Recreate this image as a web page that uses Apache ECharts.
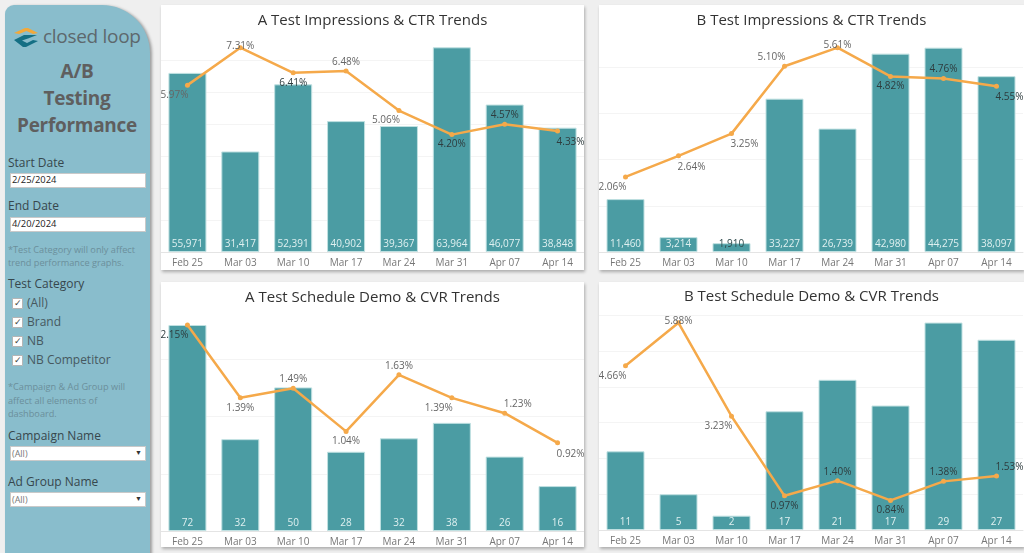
<!DOCTYPE html>
<html>
<head>
<meta charset="utf-8">
<title>A/B Testing Performance</title>
<script src="https://cdn.jsdelivr.net/npm/echarts@6/dist/echarts.min.js"></script>
<style>
  html, body { margin: 0; padding: 0; width: 1024px; height: 553px; overflow: hidden; background: #efefef; font-family: "Open Sans", sans-serif; }
  .panel { position: absolute; background: #fff; box-shadow: 1px 2px 3px rgba(0,0,0,.28); }
  #side { position: absolute; left: 5px; top: 5px; width: 145px; height: 560px; background: #89bdcc; border-radius: 9px 48px 0 0; box-shadow: 2px 1px 3px rgba(0,0,0,.35); }
  .t { position: absolute; white-space: nowrap; line-height: 1; }
  .head { left: 0; width: 154px; text-align: center; font-size: 19px; font-weight: 700; letter-spacing: -.3px; color: #5f5f5f; }
  .lab { left: 8px; font-size: 12px; color: #37474d; }
  .note { left: 8px; font-size: 9.2px; color: #6b8f9b; }
  .opt { left: 27px; font-size: 12px; color: #46585f; }
  .box { position: absolute; left: 10px; width: 134px; background: #fff; border: 1px solid #c9c9c9; box-sizing: content-box; }
  .val { left: 12px; font-size: 9.4px; color: #222; }
  .all { left: 12px; font-size: 9px; color: #777; }
  .check { position: absolute; left: 12px; width: 9px; height: 9px; background: #fff; border: 1px solid #b5b5b5; border-radius: 1px; }
</style>
</head>
<body>
<div id="side"></div>
<svg style="position:absolute;left:13px;top:26px" width="27" height="23" viewBox="0 0 27 23">
  <path d="M1 7 L12 2 L15 2 L25 7 L20 8 L13.5 5 L6 8 Z" fill="#f2a93b"/>
  <path d="M1 14 L11 9 L24 9 L15 12.5 L9 14.5 L14 17 L20 14 L25 15 L13 21 L10 21 Z" fill="#146f84"/>
</svg>
<div class="t" style="left:43px;top:27px;font-size:19px;color:#5d686d;letter-spacing:-.3px">closed loop</div>
<div class="t head" style="top:62px">A/B</div>
<div class="t head" style="top:89px">Testing</div>
<div class="t head" style="top:116px">Performance</div>

<div class="t lab" style="top:157px">Start Date</div>
<div class="box" style="top:173px;height:13px"></div>
<div class="t val" style="top:175px">2/25/2024</div>
<div class="t lab" style="top:200px">End Date</div>
<div class="box" style="top:217px;height:13px"></div>
<div class="t val" style="top:219px">4/20/2024</div>
<div class="t note" style="top:245px">*Test Category will only affect</div>
<div class="t note" style="top:258px">trend performance graphs.</div>

<div class="t lab" style="top:278px">Test Category</div>
<div class="check" style="top:298px"></div><div class="t" style="left:14px;top:298px;font-size:9px;color:#444">✓</div><div class="t opt" style="top:297px">(All)</div>
<div class="check" style="top:317px"></div><div class="t" style="left:14px;top:317px;font-size:9px;color:#444">✓</div><div class="t opt" style="top:316px">Brand</div>
<div class="check" style="top:336px"></div><div class="t" style="left:14px;top:336px;font-size:9px;color:#444">✓</div><div class="t opt" style="top:335px">NB</div>
<div class="check" style="top:355px"></div><div class="t" style="left:14px;top:355px;font-size:9px;color:#444">✓</div><div class="t opt" style="top:354px">NB Competitor</div>
<div class="t note" style="top:382px">*Campaign &amp; Ad Group will</div>
<div class="t note" style="top:396px">affect all elements of</div>
<div class="t note" style="top:409px">dashboard.</div>

<div class="t lab" style="top:430px">Campaign Name</div>
<div class="box" style="top:446px;height:13px"></div>
<div class="t all" style="top:449px">(All)</div>
<div class="t" style="left:135px;top:449px;font-size:7px;color:#333">▼</div>
<div class="t lab" style="top:476px">Ad Group Name</div>
<div class="box" style="top:492px;height:13px"></div>
<div class="t all" style="top:495px">(All)</div>
<div class="t" style="left:135px;top:495px;font-size:7px;color:#333">▼</div>

<div class="panel" id="c1" style="left:161px;top:5px;width:423px;height:265px"></div>
<div class="panel" id="c2" style="left:599px;top:5px;width:425px;height:265px"></div>
<div class="panel" id="c3" style="left:161px;top:282px;width:423px;height:265px"></div>
<div class="panel" id="c4" style="left:599px;top:282px;width:425px;height:265px"></div>

<script>
var weeks = ['Feb 25', 'Mar 03', 'Mar 10', 'Mar 17', 'Mar 24', 'Mar 31', 'Apr 07', 'Apr 14'];

var impressionsA = [55971, 31417, 52391, 40902, 39367, 63964, 46077, 38848];
var ctrA = [5.97, 7.31, 6.41, 6.48, 5.06, 4.20, 4.57, 4.33];
var impressionsB = [11460, 3214, 1910, 33227, 26739, 42980, 44275, 38097];
var ctrB = [2.06, 2.64, 3.25, 5.10, 5.61, 4.82, 4.76, 4.55];
// demo counts are fractional in the bars, the labels show them rounded
var demosA = [72, 32.1, 50.2, 27.7, 32.4, 37.8, 26, 15.7];
var cvrA = [2.15, 1.39, 1.49, 1.04, 1.63, 1.39, 1.23, 0.92];
var demosB = [11, 5, 2, 16.6, 21, 17.4, 29, 26.6];
var cvrB = [4.66, 5.88, 3.23, 0.97, 1.40, 0.84, 1.38, 1.53];

// where each percent label sits against its point
var labelOffsets = {
    on: [0, -2], up: [0, -9], down: [0, 10],
    downLeft: [-13, 10], downRight: [13, 11], upLeft: [-13, -9], upRight: [13, -9]
};

var panels = [
    {
        id: 'c1', title: 'A Test Impressions & CTR Trends', bars: impressionsA, line: ctrA,
        barMax: 66250, barStep: 10000, lineMax: 7.585, titleTop: 3, top: 35, bottom: 18,
        sides: ['downLeft', 'on', 'down', 'up', 'downLeft', 'down', 'up', 'downRight'],
        darkLabels: [2, 5, 6, 7], darkBars: []
    },
    {
        id: 'c2', title: 'B Test Impressions & CTR Trends', bars: impressionsB, line: ctrB,
        barMax: 45937, barStep: 10000, lineMax: 5.82, titleTop: 3, top: 35, bottom: 18,
        sides: ['downLeft', 'downRight', 'downRight', 'upLeft', 'on', 'down', 'up', 'downRight'],
        darkLabels: [5, 6, 7], darkBars: [2]
    },
    {
        id: 'c3', title: 'A Test Schedule Demo & CVR Trends', bars: demosA, line: cvrA,
        barMax: 74.8, barStep: 20, lineMax: 2.234, titleTop: 3, top: 35, bottom: 16,
        sides: ['downLeft', 'down', 'up', 'down', 'up', 'downLeft', 'upRight', 'downRight'],
        darkLabels: [0], darkBars: []
    },
    {
        id: 'c4', title: 'B Test Schedule Demo & CVR Trends', bars: demosB, line: cvrB,
        barMax: 30.2, barStep: 5, lineMax: 6.13, titleTop: 2, top: 32, bottom: 17,
        sides: ['downLeft', 'on', 'downLeft', 'down', 'up', 'down', 'up', 'upRight'],
        darkLabels: [3, 4, 5, 6, 7], darkBars: []
    }
];

var fontName = '"Open Sans", sans-serif';

panels.forEach(function (p) {
    var chart = echarts.init(document.getElementById(p.id));
    chart.setOption({
        animation: false,
        backgroundColor: '#fff',
        title: {
            text: p.title, left: 'center', top: p.titleTop,
            textStyle: { fontFamily: fontName, fontSize: 15, fontWeight: 'normal', color: '#333' }
        },
        grid: { left: 0, right: p.id == 'c1' || p.id == 'c3' ? 0 : 1, top: p.top, bottom: p.bottom },
        xAxis: {
            type: 'category',
            data: weeks,
            axisLine: { lineStyle: { color: '#e4e4e4' } },
            axisTick: { length: 3, lineStyle: { color: '#ececec' } },
            axisLabel: { fontFamily: fontName, fontSize: 10, color: '#777', margin: 6 }
        },
        yAxis: [
            {
                type: 'value', min: 0, max: p.barMax, interval: p.barStep,
                axisLine: { show: false }, axisTick: { show: false }, axisLabel: { show: false },
                splitLine: { showMinLine: false, showMaxLine: false, lineStyle: { color: '#f4f4f4' } }
            },
            { type: 'value', min: 0, max: p.lineMax, show: false, splitLine: { show: false } }
        ],
        series: [
            {
                type: 'bar',
                barWidth: 38,
                data: p.bars.map(function (v, i) {
                    return {
                        value: v,
                        label: { color: p.darkBars.indexOf(i) >= 0 ? '#2f4b4d' : '#dff0f0' }
                    };
                }),
                itemStyle: { color: '#4b9ca3', borderColor: '#bfe0e1', borderWidth: 1 },
                label: {
                    show: true, position: 'insideBottom', distance: 3,
                    fontFamily: fontName, fontSize: 10,
                    formatter: function (o) { return Math.round(o.value).toLocaleString('en-US'); }
                }
            },
            {
                type: 'line',
                yAxisIndex: 1,
                data: p.line.map(function (v, i) {
                    return {
                        value: v,
                        label: {
                            offset: labelOffsets[p.sides[i]],
                            color: p.darkLabels.indexOf(i) >= 0 ? '#2e3c3e' : '#666'
                        }
                    };
                }),
                symbol: 'circle',
                symbolSize: 5,
                lineStyle: { color: '#f5a94a', width: 2.5 },
                itemStyle: { color: '#f5a94a' },
                label: {
                    show: true, position: 'inside', fontFamily: fontName, fontSize: 10,
                    formatter: function (o) { return o.value.toFixed(2) + '%'; }
                }
            }
        ]
    });
});
</script>
</body>
</html>
